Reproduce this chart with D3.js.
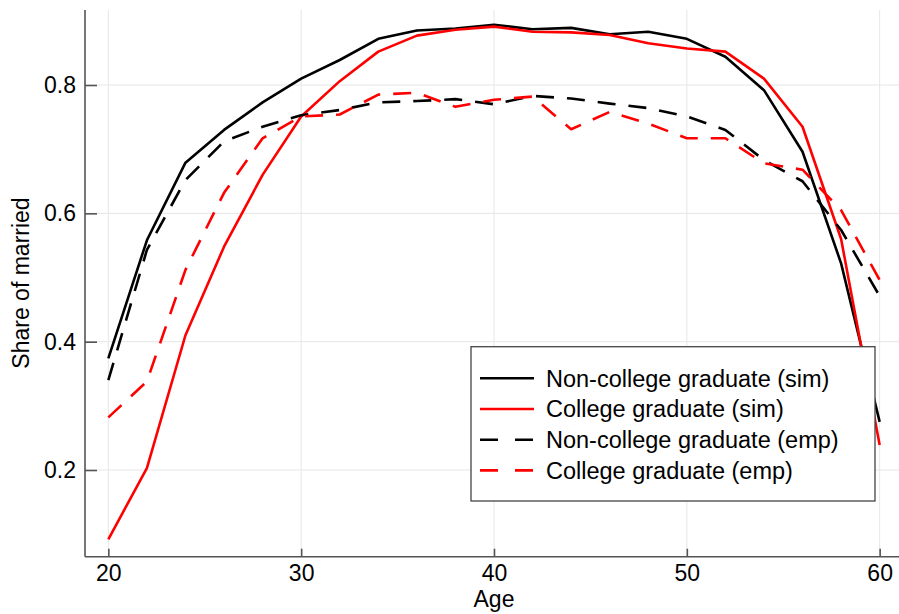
<!DOCTYPE html>
<html>
<head>
<meta charset="utf-8">
<script src="https://cdn.jsdelivr.net/npm/d3@7"></script>
<style>
  body { margin: 0; background: #fff; }
  text { font-family: "Liberation Sans", Arial, sans-serif; fill: #111; }
</style>
</head>
<body>
<script>
// share of married by age, simulated vs empirical

var ages = [20, 22, 24, 26, 28, 30, 32, 34, 36, 38, 40, 42, 44, 46, 48, 50, 52, 54, 56, 58, 60];

var nonCollegeSim = [0.374, 0.558, 0.679, 0.730, 0.773, 0.810, 0.839, 0.872, 0.885, 0.888, 0.894,
                     0.887, 0.889, 0.879, 0.883, 0.872, 0.844, 0.792, 0.696, 0.522, 0.275];
var collegeSim    = [0.092, 0.203, 0.410, 0.548, 0.660, 0.751, 0.806, 0.852, 0.877, 0.886, 0.891,
                     0.883, 0.882, 0.878, 0.865, 0.857, 0.852, 0.810, 0.735, 0.560, 0.239];
var nonCollegeEmp = [0.340, 0.543, 0.652, 0.712, 0.735, 0.753, 0.761, 0.773, 0.775, 0.778, 0.770,
                     0.783, 0.779, 0.771, 0.764, 0.751, 0.730, 0.683, 0.650, 0.574, 0.471];
var collegeEmp    = [0.282, 0.338, 0.512, 0.632, 0.717, 0.751, 0.754, 0.785, 0.788, 0.766, 0.777,
                     0.782, 0.731, 0.758, 0.740, 0.717, 0.717, 0.678, 0.668, 0.605, 0.496];

var xTicks = [20, 30, 40, 50, 60];
var yTicks = [0.2, 0.4, 0.6, 0.8];
var seriesNames = ["Non-college graduate (sim)", "College graduate (sim)",
                   "Non-college graduate (emp)", "College graduate (emp)"];

var margin = {top: 10, right: -4, bottom: 57.3, left: 85},
    width = 899 - margin.left - margin.right,
    height = 614 - margin.top - margin.bottom;

var svg = d3.select("body")
    .append("svg")
    .attr("width", 899)
    .attr("height", 614);

var g = svg.append("g")
    .attr("transform", "translate(" + margin.left + "," + margin.top + ")");

var xScale = d3.scaleLinear().domain([18.79, 61.21]).range([0, width]),
    yScale = d3.scaleLinear().domain([0.0649, 0.9169]).range([height, 0]);

// grid
g.append("g").selectAll("line")
    .data(xTicks)
  .enter().append("line")
    .attr("x1", function(d) { return xScale(d); })
    .attr("x2", function(d) { return xScale(d); })
    .attr("y1", 0).attr("y2", height)
    .style("stroke", "#e6e6e6").style("stroke-width", 1);

g.append("g").selectAll("line")
    .data(yTicks)
  .enter().append("line")
    .attr("y1", function(d) { return yScale(d); })
    .attr("y2", function(d) { return yScale(d); })
    .attr("x1", 0).attr("x2", width)
    .style("stroke", "#e6e6e6").style("stroke-width", 1);

// lines
var series = [
  {name: seriesNames[0], values: nonCollegeSim, color: "#000", dash: null},
  {name: seriesNames[1], values: collegeSim,    color: "#ff0000", dash: null},
  {name: seriesNames[2], values: nonCollegeEmp, color: "#000", dash: "18,13"},
  {name: seriesNames[3], values: collegeEmp,    color: "#ff0000", dash: "18,13"}
];

var line = d3.line()
    .x(function(d, i) { return xScale(ages[i]); })
    .y(function(d) { return yScale(d); });

g.selectAll(".series")
    .data(series)
  .enter().append("path")
    .attr("class", "series")
    .attr("d", function(d) { return line(d.values); })
    .style("fill", "none")
    .style("stroke", function(d) { return d.color; })
    .style("stroke-width", 2.6)
    .style("stroke-linejoin", "round")
    .style("stroke-dasharray", function(d) { return d.dash; });

// legend
var legend = svg.append("g").attr("transform", "translate(471,346.7)");
legend.append("rect")
    .attr("width", 404).attr("height", 154.3)
    .style("fill", "#fff").style("stroke", "#444").style("stroke-width", 1.3);

var rows = legend.selectAll(".row")
    .data(series)
  .enter().append("g")
    .attr("class", "row")
    .attr("transform", function(d, i) { return "translate(0," + (31.6 + i * 30.7) + ")"; });

rows.append("line")
    .attr("x1", 9).attr("x2", 63)
    .style("stroke", function(d) { return d.color; })
    .style("stroke-width", 2.6)
    .style("stroke-dasharray", function(d) { return d.dash ? "18,17" : null; });

rows.append("text")
    .attr("x", 75)
    .attr("dy", "0.35em")
    .style("font-size", "23.5px")
    .style("fill", "#000")
    .text(function(d) { return d.name; });

// axes
var xAxis = d3.axisBottom(xScale).tickValues(xTicks).tickSize(-8).tickPadding(8)
    .tickFormat(d3.format("d"));
var yAxis = d3.axisLeft(yScale).tickValues(yTicks).tickSize(-12).tickPadding(9)
    .tickFormat(d3.format(".1f"));

var gx = g.append("g")
    .attr("transform", "translate(0," + height + ")")
    .call(xAxis);
var gy = g.append("g").call(yAxis);

[gx, gy].forEach(function(a) {
  a.select(".domain").style("stroke", "#555").style("stroke-width", 1.6);
  a.selectAll(".tick line").style("stroke", "#555").style("stroke-width", 1.6);
  a.selectAll(".tick text").style("font-size", "23px").style("font-family", "Liberation Sans, Arial, sans-serif").style("fill", "#000");
});
gx.select(".domain").attr("d", "M0,0H" + width);
gy.select(".domain").attr("d", "M0," + height + "V0");

// axis titles
svg.append("text")
    .attr("x", margin.left + width / 2)
    .attr("y", 607)
    .attr("text-anchor", "middle")
    .style("font-size", "23px")
    .style("fill", "#000")
    .text("Age");

svg.append("text")
    .attr("transform", "translate(29," + 283 + ") rotate(-90)")
    .attr("text-anchor", "middle")
    .style("font-size", "23px")
    .style("fill", "#000")
    .text("Share of married");
</script>
</body>
</html>
